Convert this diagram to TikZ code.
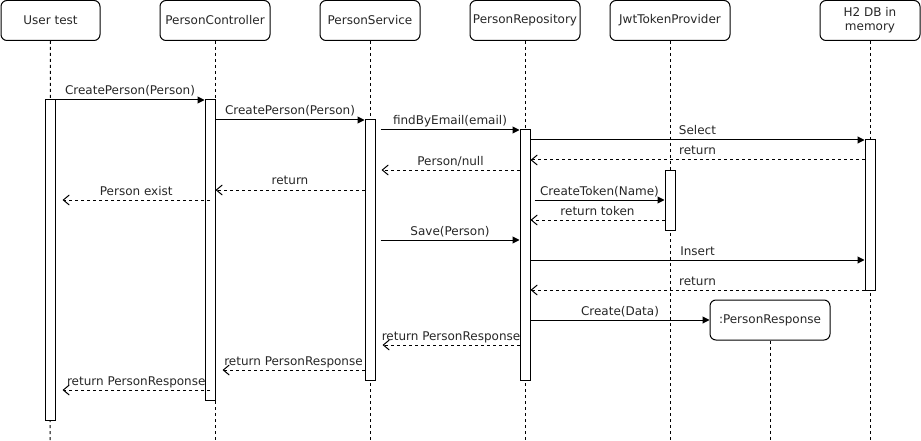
\documentclass[tikz,border=0pt]{standalone}
\usepackage{fontspec}
\setmainfont{DejaVu Sans}
\usetikzlibrary{arrows.meta,calc}
\begin{document}
\begin{tikzpicture}[x=1pt,y=-1pt,
  every node/.style={font=\fontsize{12}{14}\selectfont,text=black!85},
  head/.style={draw,rounded corners=6pt,minimum height=40pt,inner sep=2pt,line width=1pt,align=center},
  actbar/.style={draw,fill=white,minimum width=10pt,inner sep=0pt,line width=1pt},
  life/.style={line width=1pt,dash pattern=on 3pt off 3pt},
  call/.style={line width=1pt,-{Triangle[length=7pt,width=7pt]}},
  reply/.style={line width=1pt,dash pattern=on 3pt off 3pt,-{Straight Barb[length=6pt,width=10pt,line width=1pt]}},
  lbl/.style={midway,anchor=base,yshift=5pt,inner sep=0pt}
]
\useasboundingbox (0,0) rectangle (921,441);
% headers
\node[head,minimum width=99pt] (ut) at (50.5,20.5) {User test};
\node[head,minimum width=110pt] (pc) at (215,20.5) {PersonController};
\node[head,minimum width=100pt] (ps) at (370,20.5) {PersonService};
\node[head,minimum width=110pt] (rp) at (525,20.5) {PersonRepository};
\node[head,minimum width=120pt] (jw) at (670,20.5) {JwtTokenProvider};
\node[head,minimum width=100pt] (db) at (870,20.5) {H2 DB in\\memory};
\node[head,minimum width=120pt] (pr) at (770,320) {:PersonResponse};
% lifelines
\coordinate (utend) at (50,441);
\coordinate (pcend) at (215,441);
\coordinate (psend) at (370,441);
\coordinate (rpend) at (525,441);
\coordinate (jwend) at (670,441);
\coordinate (dbend) at (870,441);
\coordinate (prend) at (770,441);
\draw[life] (ut.south) -- (utend);
\draw[life] (pc.south) -- (pcend);
\draw[life] (ps.south) -- (psend);
\draw[life] (rp.south) -- (rpend);
\draw[life] (jw.south) -- (jwend);
\draw[life] (db.south) -- (dbend);
\draw[life] (pr.south) -- (prend);
% activation bars
\node[actbar,minimum height=320pt] (ub) at (50,260) {};
\node[actbar,minimum height=300pt] (cb) at (210,250) {};
\node[actbar,minimum height=260pt] (sb) at (370,250) {};
\node[actbar,minimum height=250pt] (rb) at (525,255) {};
\node[actbar,minimum height=60pt] (jb) at (670,200) {};
\node[actbar,minimum height=150pt] (hb) at (870,215) {};
% messages
\draw[call] (ub.east |- 0,100) -- node[lbl]{CreatePerson(Person)} (cb.west |- 0,100);
\draw[call] (cb.east |- 0,120) -- node[lbl]{CreatePerson(Person)} (sb.west |- 0,120);
\draw[call] ($(sb.east |- 0,130)+(5,0)$) -- node[lbl]{findByEmail(email)} (rb.west |- 0,130);
\draw[call] (rb.east |- 0,140) -- node[lbl]{Select} (hb.west |- 0,140);
\draw[reply] (hb.west |- 0,160) -- node[lbl]{return} (rb.east |- 0,160);
\draw[reply] (rb.west |- 0,170) -- node[lbl]{Person/null} ($(sb.east |- 0,170)+(6,0)$);
\draw[reply] (sb.west |- 0,190) -- node[lbl]{return} (cb.east |- 0,190);
\draw[reply] (cb.center |- 0,200) -- node[lbl]{Person exist} ($(ub.east |- 0,200)+(7,0)$);
\draw[call] ($(rb.east |- 0,200)+(4,0)$) -- node[lbl]{CreateToken(Name)} (jb.west |- 0,200);
\draw[reply] (jb.west |- 0,220) -- node[lbl]{return token} (rb.east |- 0,220);
\draw[call] ($(sb.east |- 0,240)+(5,0)$) -- node[lbl]{Save(Person)} (rb.west |- 0,240);
\draw[call] (rb.east |- 0,260) -- node[lbl]{Insert} (hb.west |- 0,260);
\draw[reply] (hb.west |- 0,290) -- node[lbl]{return} (rb.east |- 0,290);
\draw[call] (rb.east |- 0,320) -- node[lbl]{Create(Data)} (pr.west);
\draw[reply] (rb.west |- 0,345) -- node[lbl]{return PersonResponse} ($(sb.east |- 0,345)+(7,0)$);
\draw[reply] (sb.west |- 0,370) -- node[lbl]{return PersonResponse} ($(cb.east |- 0,370)+(7,0)$);
\draw[reply] (cb.center |- 0,390) -- node[lbl]{return PersonResponse} ($(ub.east |- 0,390)+(7,0)$);
\end{tikzpicture}
\end{document}
